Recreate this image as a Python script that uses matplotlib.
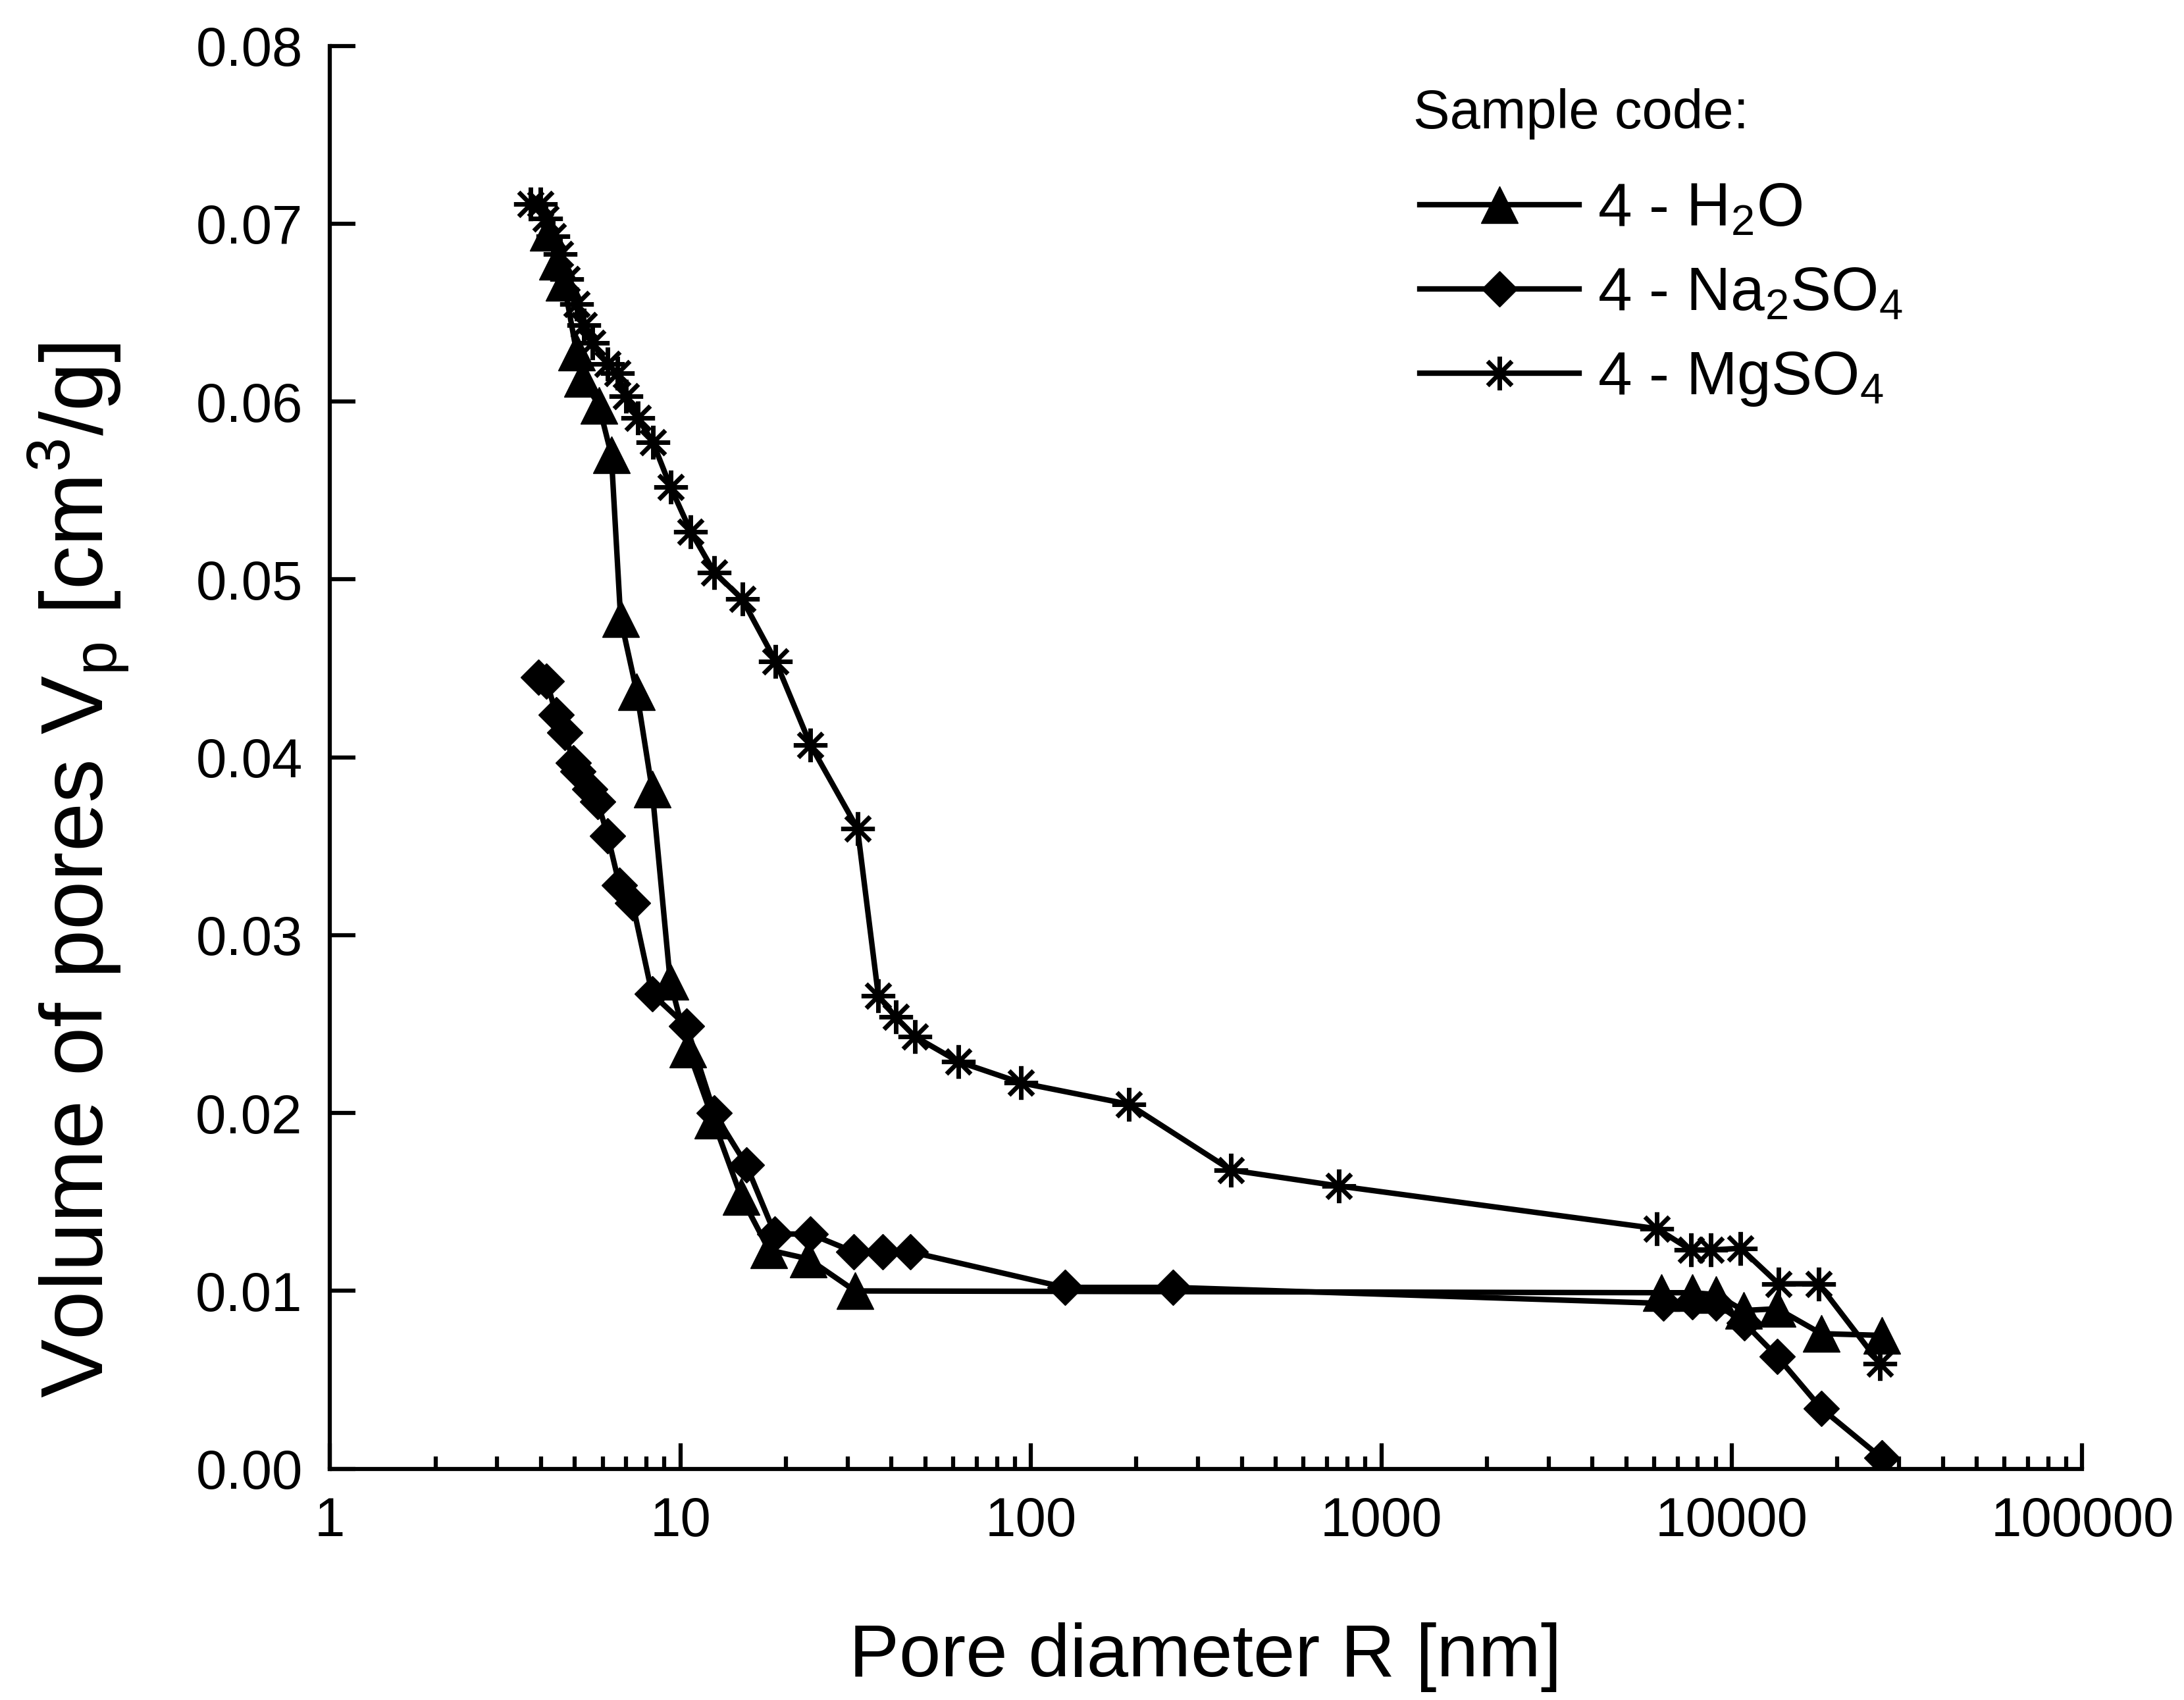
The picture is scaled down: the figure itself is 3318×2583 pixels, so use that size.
import matplotlib
matplotlib.use('Agg')
import matplotlib.pyplot as plt
from matplotlib.path import Path
from matplotlib.ticker import LogLocator, NullFormatter, FixedLocator

plt.rcParams['font.family'] = ['Liberation Sans', 'DejaVu Sans']
plt.rcParams['mathtext.fontset'] = 'custom'
plt.rcParams['mathtext.rm'] = 'Liberation Sans'
plt.rcParams['mathtext.default'] = 'regular'

# pore diameter R [nm] and cumulative pore volume [cm3/g]
h2o_x = [4.2, 4.45, 4.65, 5.05, 5.25, 5.85, 6.35, 6.75, 7.5, 8.3, 9.35, 10.5,
         12.4, 14.9, 17.9, 23.2, 31.5, 6300, 7700, 9000, 10800, 13500, 18000, 26800]
h2o_y = [0.0695, 0.0679, 0.0667, 0.0628, 0.0613, 0.0598, 0.0570, 0.0478, 0.0437,
         0.0382, 0.0274, 0.0236, 0.0196, 0.0153, 0.0123, 0.0118, 0.0100, 0.0099,
         0.0099, 0.0098, 0.0089, 0.0090, 0.0076, 0.0075]

na_x = [3.94, 4.15, 4.42, 4.68, 4.95, 5.1, 5.5, 5.8, 6.2, 6.7, 7.3, 8.3, 10.4,
        12.5, 15.4, 18.6, 23.5, 31.2, 37.7, 45.3, 125, 254, 6370, 7700, 9000,
        10850, 13500, 18000, 26800]
na_y = [0.0445, 0.0443, 0.0424, 0.0414, 0.0397, 0.0392, 0.0382, 0.0375, 0.0356,
        0.0328, 0.0318, 0.0267, 0.0249, 0.0200, 0.0171, 0.0132, 0.0132, 0.0122,
        0.0122, 0.0122, 0.0102, 0.0102, 0.0093, 0.0094, 0.0093, 0.0082, 0.0063,
        0.0034, 0.0006]

mg_x = [3.74, 3.98, 4.13, 4.32, 4.53, 4.73, 5.05, 5.3, 5.6, 6.19, 6.6, 7.0, 7.55,
        8.35, 9.37, 10.7, 12.5, 15.0, 18.7, 23.5, 32.0, 36.7, 41.1, 46.7, 62.0,
        93.7, 190, 372, 756, 6120, 7650, 8700, 10600, 13600, 17700, 26500]
mg_y = [0.0711, 0.0711, 0.0703, 0.0693, 0.0683, 0.0669, 0.0655, 0.0643, 0.0633,
        0.0621, 0.0616, 0.0603, 0.0591, 0.0577, 0.0552, 0.0527, 0.0504, 0.0489,
        0.0454, 0.0407, 0.0360, 0.0266, 0.0254, 0.0243, 0.0229, 0.0217, 0.0205,
        0.0168, 0.0159, 0.0135, 0.0123, 0.0123, 0.0124, 0.0104, 0.0104, 0.0059]

labels = ['4 - H$_2$O', '4 - Na$_2$SO$_4$', '4 - MgSO$_4$']
y_ticks = [0.00, 0.01, 0.02, 0.03, 0.04, 0.05, 0.06, 0.07, 0.08]

# eight armed asterisk like the Origin one
star = Path([(-1, 0), (1, 0), (0, -1), (0, 1),
             (-0.72, -0.72), (0.72, 0.72), (-0.72, 0.72), (0.72, -0.72)],
            [Path.MOVETO, Path.LINETO] * 4)

fig = plt.figure(figsize=(33.18, 25.83), dpi=100)
ax = fig.add_axes([0.1511, 0.136, 0.8023, 0.837])

lw = 6
ax.plot(h2o_x, h2o_y, color='black', lw=lw, marker='^', ms=40,
        mfc='black', mec='black', label=labels[0])
ax.plot(na_x, na_y, color='black', lw=lw, marker='D', ms=27,
        mfc='black', mec='black', label=labels[1])
ax.plot(mg_x, mg_y, color='black', lw=lw, marker=star, ms=37,
        mec='black', mew=5, label=labels[2])

ax.set_xscale('log')
ax.set_xlim(1, 100000)
ax.set_ylim(0, 0.08)

ax.xaxis.set_major_locator(FixedLocator([1, 10, 100, 1000, 10000, 100000]))
ax.xaxis.set_minor_locator(LogLocator(base=10, subs=range(2, 10), numticks=20))
ax.xaxis.set_minor_formatter(NullFormatter())
ax.set_xticklabels(['1', '10', '100', '1000', '10000', '100000'])
ax.set_yticks(y_ticks)
ax.set_yticklabels(['%.2f' % v for v in y_ticks])

for side in ['top', 'right']:
    ax.spines[side].set_visible(False)
for side in ['left', 'bottom']:
    ax.spines[side].set_linewidth(4.5)

ax.tick_params(axis='both', which='major', direction='in', length=28, width=4.5,
               labelsize=60, pad=30)
ax.tick_params(axis='x', which='minor', direction='in', length=14, width=4.5)

fig.text(0.036, 0.488, 'Volume of pores V$_p$ [cm$^3$/g]', rotation=90,
         ha='center', va='center', fontsize=96)
fig.text(0.552, 0.025, 'Pore diameter R [nm]', ha='center', va='center',
         fontsize=82)

fig.text(0.647, 0.933, 'Sample code:', ha='left', va='center', fontsize=60)
leg = ax.legend(loc='upper left', bbox_to_anchor=(0.650, 0.893),
                bbox_transform=fig.transFigure, frameon=False, fontsize=67,
                handlelength=2.6, handletextpad=0.3, labelspacing=0.45,
                borderpad=0, borderaxespad=0)

plt.savefig('out.png', dpi=100)
